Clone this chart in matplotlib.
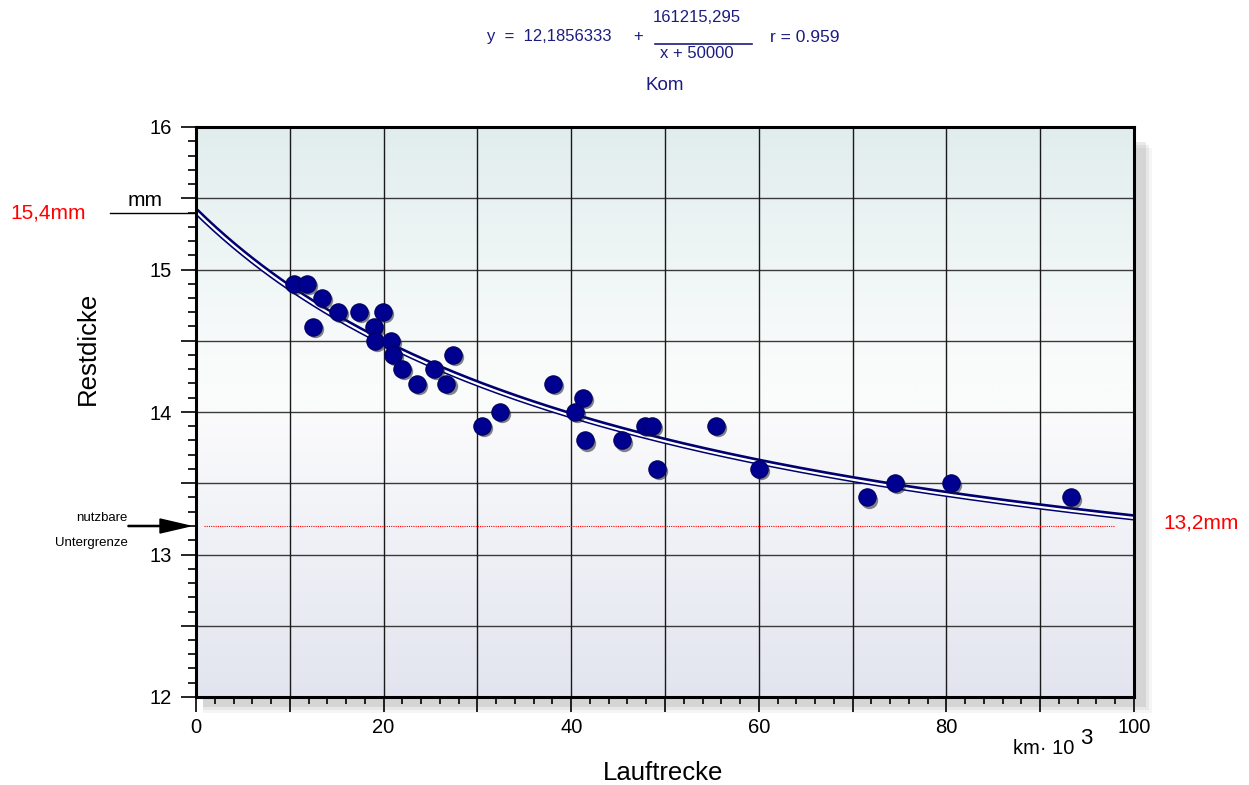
import numpy as np
import matplotlib
matplotlib.use("Agg")
import matplotlib.pyplot as plt
from matplotlib.patches import Rectangle, FancyArrow
from matplotlib.colors import LinearSegmentedColormap
from matplotlib.ticker import MultipleLocator, FuncFormatter
import matplotlib.transforms as mtransforms

plt.rcParams['font.family'] = ['Liberation Sans', 'DejaVu Sans']

# --- data (km x 10^3, mm) ---
lauftrecke = [10.4, 11.8, 13.4, 12.5, 15.1, 17.4, 19.9, 19.0, 19.1, 20.8, 21.0,
              22.0, 23.6, 25.4, 26.7, 27.4, 30.5, 32.4, 38.1, 40.4, 41.3, 41.5,
              45.4, 47.9, 48.6, 49.1, 55.4, 60.0, 71.5, 74.5, 80.5, 93.3]
restdicke = [14.9, 14.9, 14.8, 14.6, 14.7, 14.7, 14.7, 14.6, 14.5, 14.5, 14.4,
             14.3, 14.2, 14.3, 14.2, 14.4, 13.9, 14.0, 14.2, 14.0, 14.1, 13.8,
             13.8, 13.9, 13.9, 13.6, 13.9, 13.6, 13.4, 13.5, 13.5, 13.4]
fit_a = 12.1856333
fit_b = 161215.295
fit_c = 50000.0
limit_value = 13.2
x_ticks = [0, 20, 40, 60, 80, 100]
y_ticks = [12, 13, 14, 15, 16]

W, H = 1249, 785
fig = plt.figure(figsize=(W / 100, H / 100), dpi=100)
fig.patch.set_facecolor('white')

L, R, T, B = 196, 1134, 127, 697
ax = fig.add_axes([L / W, 1 - B / H, (R - L) / W, (B - T) / H])
ax.set_zorder(2)
ax.set_xlim(0, 100)
ax.set_ylim(12, 16)

# drop shadow (figure coords, behind the axes)
for off, a in [(14, 0.06), (11, 0.09), (8, 0.13)]:
    fig.patches.append(Rectangle(((L + 7) / W, 1 - (B + off + 2) / H),
                                 (R - L + off - 3) / W, (B - T - 5) / H,
                                 transform=fig.transFigure, facecolor='#606060',
                                 alpha=a, edgecolor='none', zorder=-1))

# background gradient
grad = np.linspace(0, 1, 256)
cmap = LinearSegmentedColormap.from_list('bg', [(0.0, '#e2e5ef'), (0.5, '#fbfbfc'),
                                                (0.6, '#f9fbfb'), (1.0, '#e1eded')])
ax.imshow(grad[:, None], extent=[0, 100, 12, 16], origin='lower', aspect='auto',
          cmap=cmap, zorder=0)

# grid
for yv in np.arange(12.5, 16, 0.5):
    ax.axhline(yv, color='#3a3a3a', lw=1.0, zorder=1)
for xv in range(10, 100, 10):
    ax.axvline(xv, color='#1a1a1a', lw=1.0, zorder=1)

# limit line
ax.plot([0.8, 98.0], [limit_value, limit_value], color='red', lw=0.8,
        ls=(0, (1, 1)), zorder=2)

# fit curve
xs = np.linspace(0, 100, 400)
ys = fit_a + fit_b / (xs * 1000 + fit_c)
ax.plot(xs, ys, color='#000070', lw=4.6, zorder=3, solid_capstyle='butt')
ax.plot(xs, ys - 0.004, color='white', lw=1.6, zorder=3.1, solid_capstyle='butt')

# points with shadow
shadow = mtransforms.offset_copy(ax.transData, fig=fig, x=1.5, y=-1.5, units='points')
ax.plot(lauftrecke, restdicke, 'o', ms=12.5, color='#202030', mec='none',
        transform=shadow, zorder=4, alpha=0.55)
ax.plot(lauftrecke, restdicke, 'o', ms=12.5, color='#000090', mec='#000060',
        mew=0.8, zorder=5)

for s in ax.spines.values():
    s.set_linewidth(2.2)
    s.set_color('black')
    s.set_zorder(6)

ax.yaxis.set_major_locator(MultipleLocator(0.5))
ax.yaxis.set_minor_locator(MultipleLocator(0.1))
ax.yaxis.set_major_formatter(FuncFormatter(
    lambda v, p: f"{int(round(v))}" if abs(v - round(v)) < 1e-6 else ""))
ax.xaxis.set_major_locator(MultipleLocator(10))
ax.xaxis.set_minor_locator(MultipleLocator(2))
ax.xaxis.set_major_formatter(FuncFormatter(
    lambda v, p: f"{int(round(v))}" if int(round(v)) in x_ticks else ""))
ax.tick_params(axis='y', which='major', length=10.5, width=1.2, labelsize=14.5, pad=7)
ax.tick_params(axis='y', which='minor', length=5.5, width=1.2)
ax.tick_params(axis='x', which='major', length=11, width=1.2, labelsize=14.5, pad=4)
ax.tick_params(axis='x', which='minor', length=5, width=1.2)

# formula header
navy = '#1c1c80'
fs = 12
fig.text(487 / W, 1 - 37 / H, 'y  =  12,1856333', color=navy, fontsize=fs,
         ha='left', va='center')
fig.text(638 / W, 1 - 37 / H, '+', color=navy, fontsize=fs, ha='center', va='center')
fig.text(697 / W, 1 - 18 / H, '161215,295', color=navy, fontsize=fs,
         ha='center', va='center')
fig.lines.append(plt.Line2D([655 / W, 752 / W], [1 - 44 / H, 1 - 44 / H],
                            transform=fig.transFigure, color=navy, lw=1.2))
fig.text(697 / W, 1 - 54 / H, 'x + 50000', color=navy, fontsize=fs,
         ha='center', va='center')
fig.text(770 / W, 1 - 37 / H, 'r = 0.959', color=navy, fontsize=12.5,
         ha='left', va='center')
fig.text(665 / W, 1 - 85 / H, 'Kom', color=navy, fontsize=13.5, ha='center', va='center')

# side annotations
fig.text(10 / W, 1 - 213 / H, '15,4mm', color='red', fontsize=15, ha='left', va='center')
fig.lines.append(plt.Line2D([110 / W, L / W], [1 - 213 / H, 1 - 213 / H],
                            transform=fig.transFigure, color='black', lw=1.0))
fig.text(145 / W, 1 - 200 / H, 'mm', color='black', fontsize=15, ha='center', va='center')
fig.text(1201 / W, 1 - 523 / H, '13,2mm', color='red', fontsize=15, ha='center', va='center')
fig.text(128 / W, 1 - 518 / H, 'nutzbare', color='black', fontsize=9.5, ha='right', va='center')
fig.text(128 / W, 1 - 543 / H, 'Untergrenze', color='black', fontsize=9.5,
         ha='right', va='center')
fig.patches.append(FancyArrow(128 / W, 1 - 526 / H, (190 - 128) / W, 0,
                              width=0.0015, head_width=14 / H, head_length=30 / W,
                              length_includes_head=True, transform=fig.transFigure,
                              color='black', zorder=3))

fig.text(88 / W, 1 - 348 / H, 'Restdicke', rotation=90, fontsize=18.5,
         ha='center', va='center')
fig.text(663 / W, 1 - 773 / H, 'Lauftrecke', fontsize=18.5, ha='center', va='center')
fig.text(1044 / W, 1 - 748 / H, 'km\u00b7 10', fontsize=14.5, ha='center', va='center')
fig.text(1086 / W, 1 - 738 / H, '3', fontsize=16, ha='center', va='center')

fig.savefig('out.png', dpi=100)
